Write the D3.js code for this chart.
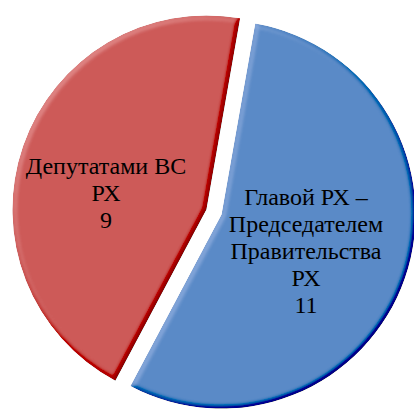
<!DOCTYPE html>
<html>
<head>
<meta charset="utf-8">
<script src="https://cdn.jsdelivr.net/npm/d3@7"></script>
<style>
  html, body { margin: 0; padding: 0; background: #fff; }
  svg { display: block; }
</style>
</head>
<body>
<div id="chart"></div>
<script>
'use strict';
// slice data (clockwise from the top)
const categories = ["Главой РХ – Председателем Правительства РХ", "Депутатами ВС РХ"];
const values = [11, 9];
const labelLines = [
  ["Главой РХ –", "Председателем", "Правительства", "РХ"],
  ["Депутатами ВС", "РХ"]
];
const colors = ["#5a8ac7", "#cd5a58"];

const width = 414, height = 409;
const cx = 214, cy = 212, radius = 194, explode = 8;
const lineHeight = 27;
// label placement tweaks, close to what the office chart did
const labelNudge = [[-7, 5], [-9, 15]];

const svg = d3.select("#chart").append("svg")
  .attr("width", width)
  .attr("height", height);

// soft bevel: lighting on a blurred alpha map, added onto the flat colour
const defs = svg.append("defs");
const f = defs.append("filter").attr("id", "bevel")
  .attr("x", "-5%").attr("y", "-5%").attr("width", "110%").attr("height", "110%");
f.append("feGaussianBlur").attr("in", "SourceAlpha").attr("stdDeviation", 2.8).attr("result", "blur");
f.append("feDiffuseLighting").attr("in", "blur").attr("surfaceScale", 3.5)
  .attr("diffuseConstant", 1).attr("lighting-color", "#fff").attr("result", "diff")
  .append("feDistantLight").attr("azimuth", 225).attr("elevation", 50);
// flat parts get diff = sin(50deg) ~ 0.766, so k4 cancels it out there
f.append("feComposite").attr("in", "SourceGraphic").attr("in2", "diff")
  .attr("operator", "arithmetic").attr("k1", 0).attr("k2", 1).attr("k3", 0.5).attr("k4", -0.383)
  .attr("result", "lit");
f.append("feComposite").attr("in", "lit").attr("in2", "SourceAlpha").attr("operator", "in");

const pie = d3.pie()
  .sort(null)
  .value(d => d)
  .startAngle(10 * Math.PI / 180)
  .endAngle(370 * Math.PI / 180);

const arc = d3.arc().innerRadius(0).outerRadius(radius);
const labelArc = d3.arc().innerRadius(radius * 0.5).outerRadius(radius * 0.5);

const arcs = pie(values);

function offset(a) {
  let mid = (a.startAngle + a.endAngle) / 2;
  return [Math.sin(mid) * explode, -Math.cos(mid) * explode];
}

const g = svg.append("g").attr("transform", "translate(" + cx + "," + cy + ")");

g.selectAll("path.slice")
  .data(arcs)
  .enter().append("path")
  .attr("class", "slice")
  .attr("transform", d => "translate(" + offset(d) + ")")
  .attr("d", arc)
  .attr("fill", (d, i) => colors[i])
  .attr("filter", "url(#bevel)");

// labels in their own layer, snapped to whole pixels
const labels = svg.append("g").attr("class", "labels");
arcs.forEach((d, i) => {
  let c = labelArc.centroid(d);
  let o = offset(d);
  let x = Math.round(cx + c[0] + o[0] + labelNudge[i][0]);
  let y = Math.round(cy + c[1] + o[1] + labelNudge[i][1]);
  let lines = labelLines[i].concat([String(values[i])]);
  let top = y - (lines.length - 1) / 2 * lineHeight + 8;
  let t = labels.append("text")
    .attr("text-anchor", "middle")
    .attr("font-family", "Liberation Serif")
    .attr("font-size", 24)
    .attr("fill", "#000");
  lines.forEach((ln, k) => {
    t.append("tspan")
      .attr("x", x)
      .attr("y", Math.round(top + k * lineHeight))
      .text(ln);
  });
});
</script>
</body>
</html>
